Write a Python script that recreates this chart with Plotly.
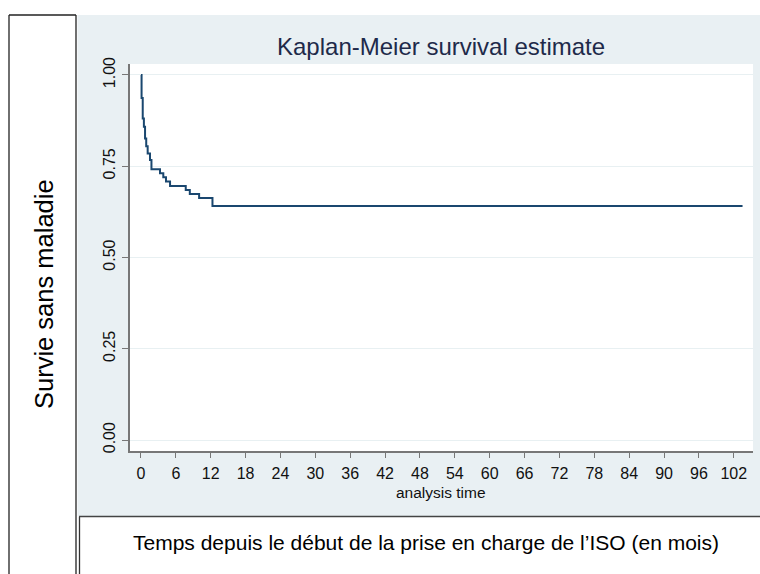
import plotly.graph_objects as go

# Kaplan-Meier step data (time in months, survival after each drop)
event_times = [0.0, 0.1, 0.3, 0.5, 0.7, 0.9, 1.15, 1.55, 1.8, 3.27, 3.84, 4.3, 5.0, 7.7, 8.4, 10.0, 12.3]
survival = [1.0, 0.937, 0.881, 0.858, 0.826, 0.805, 0.785, 0.767, 0.742, 0.731, 0.720, 0.708, 0.696, 0.685, 0.674, 0.663, 0.641]
end_time = 103.5

x_ticks = list(range(0, 103, 6))
y_ticks = [0.0, 0.25, 0.5, 0.75, 1.0]

title_text = "Kaplan-Meier survival estimate"
xaxis_title = "analysis time"
row_label = "Survie sans maladie"
col_label = "Temps depuis le début de la prise en charge de l’ISO (en mois)"

W, H = 760, 574
FONT = "Liberation Sans, Arial, sans-serif"

def px(x):
    return x / W

def py(y):
    return 1 - y / H

xs = event_times + [end_time]
ys = survival + [survival[-1]]

fig = go.Figure()
fig.add_trace(go.Scatter(
    x=xs, y=ys, mode="lines", line=dict(color="#1A476F", width=2, shape="hv"),
    hoverinfo="skip", showlegend=False,
))

# plot area in screen pixels
L, R, T, B = 130, 753, 64, 451

shapes = [
    dict(type="rect", xref="paper", yref="paper", x0=px(77.5), x1=1.0, y0=py(516), y1=py(15),
         fillcolor="#E9F0F3", line=dict(width=0), layer="below"),
    dict(type="rect", xref="paper", yref="paper", x0=px(L), x1=px(R), y0=py(B), y1=py(T),
         fillcolor="#FFFFFF", line=dict(width=0), layer="below"),
    dict(type="line", xref="paper", yref="paper", x0=px(9), x1=px(9), y0=py(15), y1=0,
         line=dict(color="#222222", width=1.3)),
    dict(type="line", xref="paper", yref="paper", x0=px(76), x1=px(76), y0=py(15), y1=0,
         line=dict(color="#222222", width=1.3)),
    dict(type="line", xref="paper", yref="paper", x0=px(9), x1=px(76), y0=py(15), y1=py(15),
         line=dict(color="#222222", width=1.3)),
    dict(type="line", xref="paper", yref="paper", x0=px(79.5), x1=px(79.5), y0=py(516.5), y1=0,
         line=dict(color="#333333", width=1.3)),
    dict(type="line", xref="paper", yref="paper", x0=px(79), x1=1.0, y0=py(516.5), y1=py(516.5),
         line=dict(color="#444444", width=1.5)),
]

annotations = [
    dict(text=title_text, x=px(441), y=py(46), xref="paper", yref="paper", showarrow=False,
         xanchor="center", yanchor="middle", font=dict(family=FONT, size=24, color="#1E2A4A")),
    dict(text=xaxis_title, x=px(441), y=py(492), xref="paper", yref="paper", showarrow=False,
         xanchor="center", yanchor="middle", font=dict(family=FONT, size=15.5, color="#111111")),
    dict(text=row_label, x=px(44), y=py(294), xref="paper", yref="paper", showarrow=False,
         textangle=-90, xanchor="center", yanchor="middle", font=dict(family=FONT, size=25.5, color="#000000")),
    dict(text=col_label, x=px(426), y=py(542), xref="paper", yref="paper", showarrow=False,
         xanchor="center", yanchor="middle", font=dict(family=FONT, size=21, color="#000000")),
]

fig.update_layout(
    width=W, height=H,
    margin=dict(l=0, r=0, t=0, b=0),
    paper_bgcolor="#FFFFFF",
    plot_bgcolor="rgba(0,0,0,0)",
    shapes=shapes,
    annotations=annotations,
    xaxis=dict(
        domain=[px(L), px(R)], range=[-1.89, 105.3],
        tickmode="array", tickvals=x_ticks, ticktext=[str(v) for v in x_ticks],
        ticks="outside", ticklen=5, tickcolor="#777777", tickwidth=1,
        showline=True, linecolor="#777777", linewidth=1.5,
        showgrid=False, zeroline=False, automargin=False,
        tickfont=dict(family=FONT, size=16, color="#111111"),
        ticklabelstandoff=2,
    ),
    yaxis=dict(
        domain=[py(B), py(T)], range=[-0.030, 1.030],
        tickmode="array", tickvals=y_ticks, ticktext=[f"{v:.2f}" for v in y_ticks],
        ticks="outside", ticklen=6, tickcolor="#777777", tickwidth=1,
        showline=True, linecolor="#777777", linewidth=1.5,
        showgrid=True, gridcolor="#E8F0F2", gridwidth=1.2,
        zeroline=False, tickangle=-90, automargin=False,
        tickfont=dict(family=FONT, size=16, color="#111111"),
        ticklabelstandoff=1,
    ),
)

fig.write_html(
    "out.html",
    config={"displayModeBar": False},
    post_script="document.body.style.margin='0';document.body.style.overflow='hidden';",
)
